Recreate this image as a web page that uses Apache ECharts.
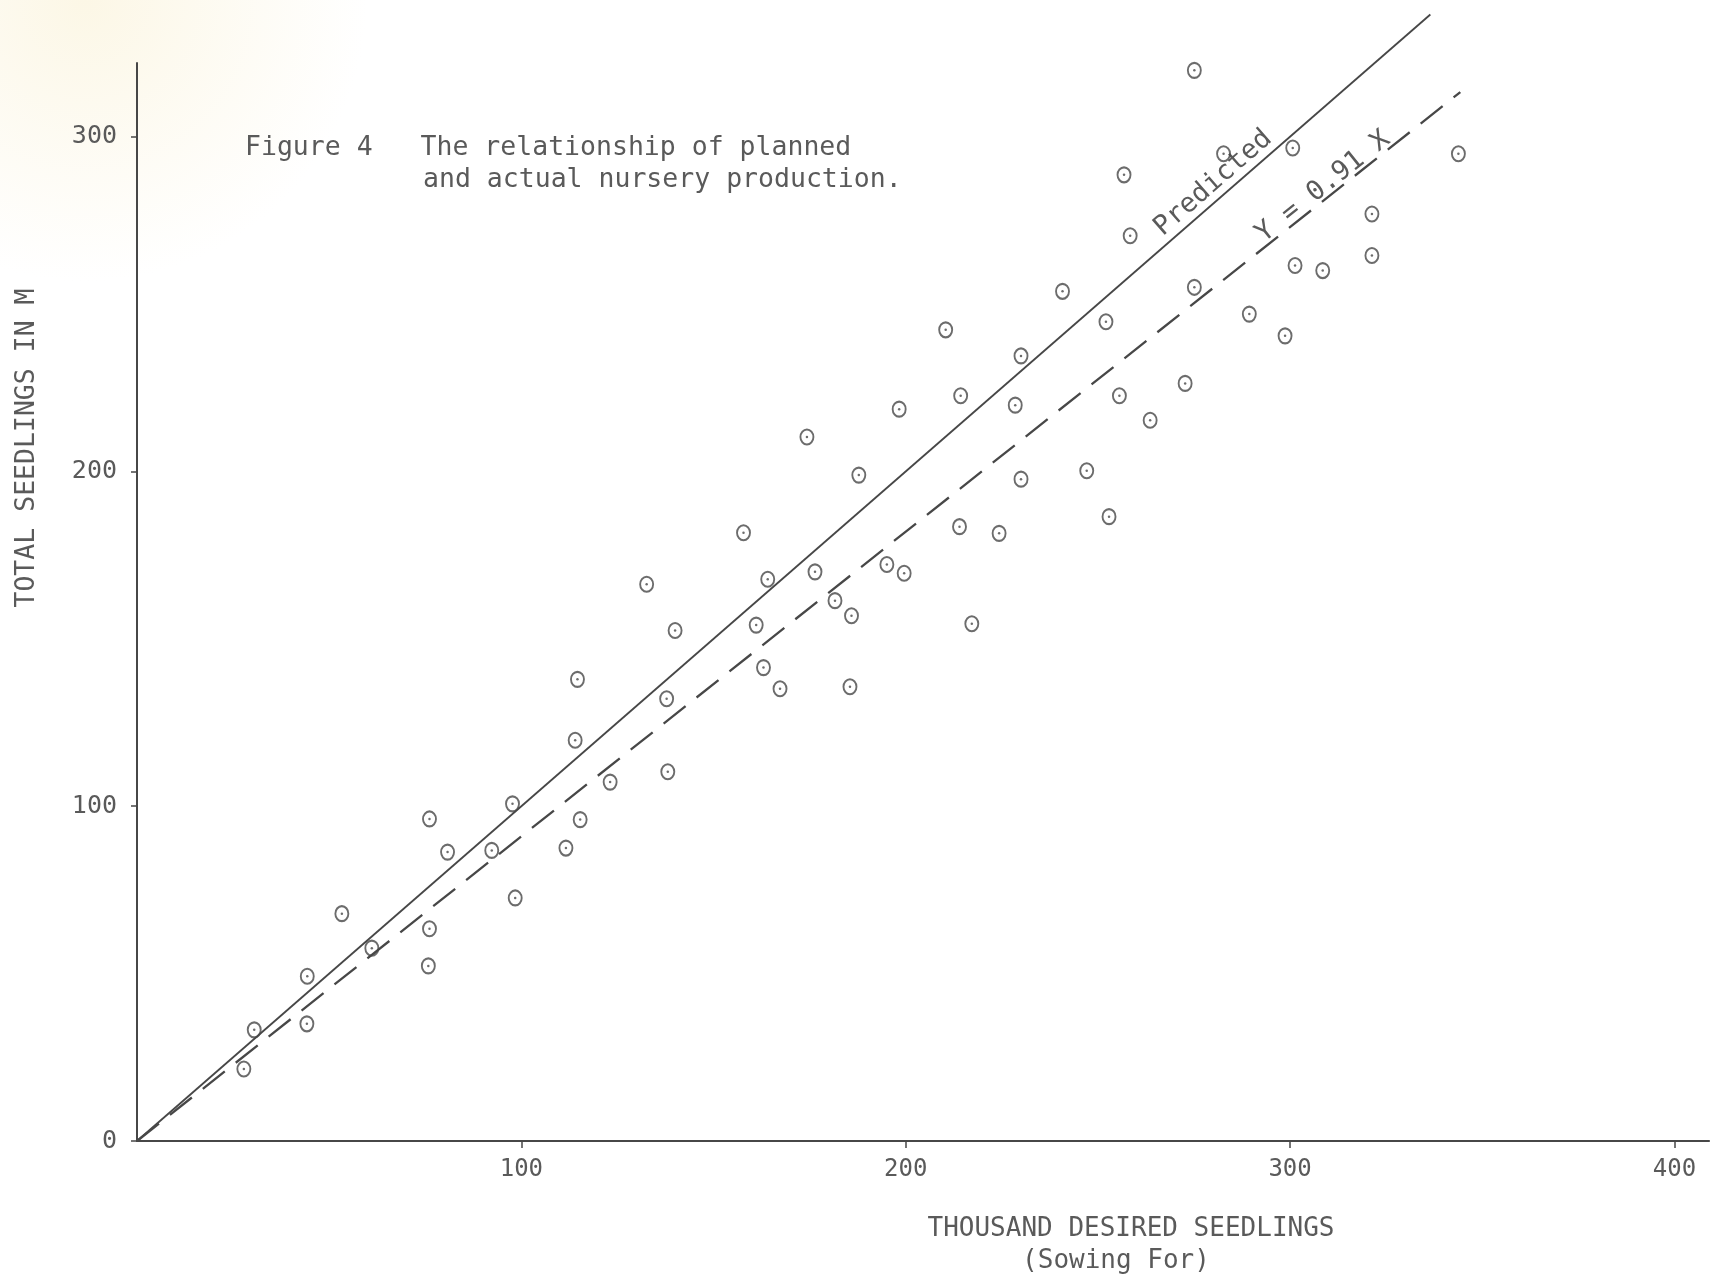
<!DOCTYPE html>
<html>
<head>
<meta charset="utf-8">
<script src="https://cdn.jsdelivr.net/npm/echarts@6/dist/echarts.min.js"></script>
<style>
  html, body { margin: 0; padding: 0; background: #fff; }
  #chart { width: 1712px; height: 1281px; }
</style>
</head>
<body>
<div id="chart"></div>
<script>
// thousand desired seedlings (sowing for) vs total seedlings produced
var desired = [27.8, 30.5, 44.2, 44.3, 53.3, 61.1, 75.8, 76.1, 76.1, 80.8,
  92.3, 97.7, 98.4, 111.6, 114.0, 114.6, 115.3, 123.1, 132.6, 137.8,
  138.1, 140.0, 157.8, 161.1, 163.0, 164.1, 167.3, 174.3, 176.4, 181.6,
  185.9, 185.5, 187.8, 195.1, 198.3, 199.6, 210.4, 214.0, 214.3, 217.2,
  224.3, 228.5, 230.0, 230.0, 240.8, 247.1, 252.1, 252.9, 255.6, 256.8,
  258.4, 263.6, 272.7, 275.1, 275.1, 282.7, 289.4, 298.7, 300.7, 301.3,
  308.5, 321.3, 321.3, 343.8];
var actual = [21.5, 33.2, 35.0, 49.2, 67.9, 57.6, 52.3, 63.4, 96.2, 86.3,
  86.8, 100.7, 72.6, 87.5, 119.7, 137.9, 96.0, 107.2, 166.3, 132.1,
  110.3, 152.5, 181.7, 154.1, 141.4, 167.8, 135.1, 210.3, 170.0, 161.4,
  156.9, 135.7, 198.9, 172.2, 218.6, 169.6, 242.3, 183.5, 222.6, 154.5,
  181.5, 219.8, 234.5, 197.7, 253.8, 200.2, 244.7, 186.5, 222.6, 288.6,
  270.4, 215.3, 226.3, 319.8, 255.0, 294.9, 247.0, 240.5, 296.6, 261.5,
  260.0, 264.5, 276.9, 294.9];

// Y = X (predicted) and Y = 0.91 X (fitted)
var predictedLine = [[0, 0], [336.5, 336.5]];
var fittedLine = [[0, 0], [344.3, 313.3]];

var xTicks = [100, 200, 300, 400];
var yTicks = [0, 100, 200, 300];

var points = desired.map(function (x, i) { return [x, actual[i]]; });

var ink = '#474747';
var textInk = '#5a5a5a';
var font = '"DejaVu Sans Mono", "Liberation Mono", monospace';

var myChart = echarts.init(document.getElementById('chart'));

option = {
    animation: false,
    backgroundColor: new echarts.graphic.RadialGradient(0.05, 0, 0.22, [{
        offset: 0, color: '#fcf7e6'
    }, {
        offset: 1, color: '#ffffff'
    }]),
    grid: {
        left: 137,
        right: 3,
        top: 63,
        bottom: 140
    },
    xAxis: {
        type: 'value',
        min: 0,
        max: 409,
        axisLine: { show: true, onZero: false, lineStyle: { color: ink, width: 2.2 } },
        axisTick: { show: true, customValues: xTicks, length: 7, lineStyle: { color: ink, width: 1.5 } },
        axisLabel: { customValues: xTicks, margin: 17, fontFamily: font, fontSize: 24, color: textInk },
        splitLine: { show: false }
    },
    yAxis: {
        type: 'value',
        min: 0,
        max: 322,
        axisLine: { show: true, onZero: false, lineStyle: { color: ink, width: 2 } },
        axisTick: { show: true, customValues: yTicks, length: 6, lineStyle: { color: ink, width: 1.5 } },
        axisLabel: { customValues: yTicks, margin: 20, fontFamily: font, fontSize: 25, color: textInk },
        splitLine: { show: false }
    },
    series: [
        {
            type: 'line',
            data: predictedLine,
            symbol: 'none',
            clip: false,
            lineStyle: { color: ink, width: 1.8 },
            z: 2
        },
        {
            type: 'line',
            data: fittedLine,
            symbol: 'none',
            clip: false,
            lineStyle: { color: ink, width: 2.3, type: [28, 14] },
            z: 2
        },
        {
            // hand drawn rings
            type: 'scatter',
            data: points,
            symbol: 'circle',
            symbolSize: [13, 15],
            itemStyle: { color: 'rgba(255,255,255,0)', borderColor: ink, borderWidth: 2 },
            z: 3
        },
        {
            // centre dots
            type: 'scatter',
            data: points,
            symbol: 'circle',
            symbolSize: 2.5,
            itemStyle: { color: ink },
            z: 4
        }
    ]
};
myChart.setOption(option);

function toPx(p) {
    return myChart.convertToPixel({ gridIndex: 0 }, p);
}
function lineAngle(line) {
    var a = toPx(line[0]), b = toPx(line[1]);
    return Math.atan2(a[1] - b[1], b[0] - a[0]);
}

var predPos = toPx([280.0, 286.1]);
var fitPos = toPx([308.6, 285.0]);
var capFont = '26.5px ' + font;

myChart.setOption({
    graphic: [
        {
            type: 'text',
            left: 245, top: 135,
            style: { text: 'Figure 4   The relationship of planned', font: capFont, fill: textInk }
        },
        {
            type: 'text',
            left: 423, top: 167,
            style: { text: 'and actual nursery production.', font: capFont, fill: textInk }
        },
        {
            type: 'text',
            x: 1131, y: 1229,
            style: { text: 'THOUSAND DESIRED SEEDLINGS', font: '26px ' + font, fill: textInk, align: 'center', verticalAlign: 'middle' }
        },
        {
            type: 'text',
            x: 1116, y: 1261,
            style: { text: '(Sowing For)', font: '26px ' + font, fill: textInk, align: 'center', verticalAlign: 'middle' }
        },
        {
            type: 'text',
            x: 27, y: 448,
            rotation: Math.PI / 2,
            style: { text: 'TOTAL SEEDLINGS IN M', font: '26.5px ' + font, fill: textInk, align: 'center', verticalAlign: 'middle' }
        },
        {
            type: 'text',
            x: predPos[0], y: predPos[1],
            rotation: lineAngle(predictedLine),
            style: { text: 'Predicted', font: '27px ' + font, fill: textInk, align: 'center', verticalAlign: 'middle' }
        },
        {
            type: 'text',
            x: fitPos[0], y: fitPos[1],
            rotation: lineAngle(fittedLine),
            style: { text: 'Y = 0.91 X', font: '27px ' + font, fill: textInk, align: 'center', verticalAlign: 'middle' }
        }
    ]
});

window.addEventListener('resize', function () {
    myChart.resize();
});
</script>
</body>
</html>
